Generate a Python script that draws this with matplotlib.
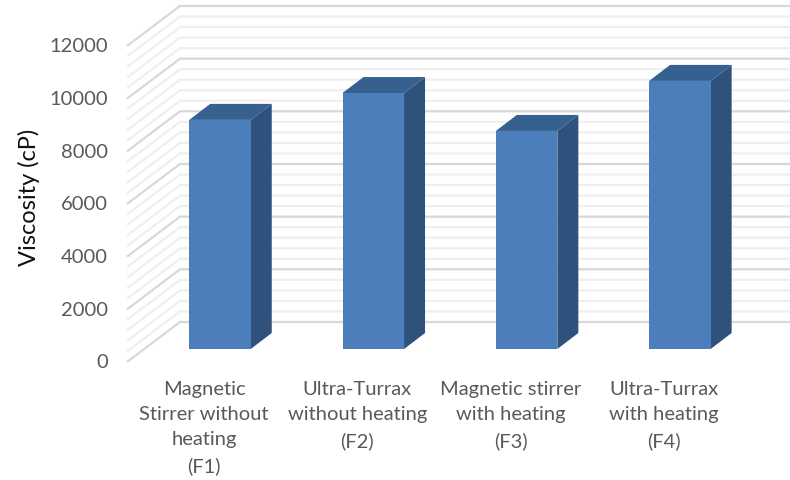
import matplotlib
matplotlib.use('Agg')
import matplotlib.pyplot as plt
from matplotlib.patches import Polygon

categories = [
    'Magnetic\nStirrer without\nheating\n(F1)',
    'Ultra-Turrax\nwithout heating\n(F2)',
    'Magnetic stirrer\nwith heating\n(F3)',
    'Ultra-Turrax\nwith heating\n(F4)',
]
viscosity = [8700, 9720, 8280, 10180]
y_ticks = [0, 2000, 4000, 6000, 8000, 10000, 12000]
minor_ticks = list(range(0, 12001, 400))

W, H = 790, 481
bar_color = '#4C7EBB'
side_color = '#2F527C'
top_color = '#35608F'
text_color = '#595959'

plt.rcParams['font.family'] = ['Lato', 'DejaVu Sans']

fig = plt.figure(figsize=(W / 100, H / 100), dpi=100)
ax = fig.add_axes([0, 0, 1, 1])

# axes cover the whole figure, scaled so the bars' front plane lands right
cat_px = 153.3
val_px = 52.67 / 2000
x0_px, y0_px = 220, 350
ax.set_xlim(-x0_px / cat_px, (W - x0_px) / cat_px)
ax.set_ylim(-(H - y0_px) / val_px, y0_px / val_px)
ax.axis('off')


def dx(px):
    return px / cat_px


def dy(px):
    return px / val_px


def x_at(px):
    return (px - x0_px) / cat_px


# 3D walls: gridlines run along the left wall and then along the back wall
for v in minor_ticks:
    major = v in y_ticks
    xs = [x_at(127), x_at(180), x_at(W)]
    ys = [v - dy(13), v + dy(27), v + dy(27)]
    ax.plot(xs, ys, color='#D8D8D8' if major else '#EFEFEF', lw=1.6,
            solid_capstyle='butt', solid_joinstyle='miter', zorder=1)

# bars with their side and top faces
bar_w = 61.5 / cat_px
depth_x, depth_y = dx(21), dy(16)
positions = list(range(len(categories)))
ax.bar(positions, viscosity, width=bar_w, color=bar_color, zorder=4)
for p, v in zip(positions, viscosity):
    r = p + bar_w / 2
    l = p - bar_w / 2
    ax.add_patch(Polygon([(r, 0), (r + depth_x, depth_y), (r + depth_x, v + depth_y), (r, v)],
                         facecolor=side_color, edgecolor='none', zorder=3))
    ax.add_patch(Polygon([(l, v), (l + depth_x, v + depth_y), (r + depth_x, v + depth_y), (r, v)],
                         facecolor=top_color, edgecolor='none', zorder=3))

# tick labels
for v in y_ticks:
    ax.text(x_at(108), v - dy(13), str(v), ha='right', va='center',
            fontsize=14.5, color=text_color)

for p, label in zip(positions, categories):
    ax.text(p - dx(16), -dy(31), label, ha='center', va='top', fontsize=14.5,
            color=text_color, linespacing=1.58)

ax.text(x_at(29), dy(350 - 197), 'Viscosity (cP)', rotation=90, ha='center', va='center',
        fontsize=17, color='#111111')

fig.savefig('out.png', dpi=100)
